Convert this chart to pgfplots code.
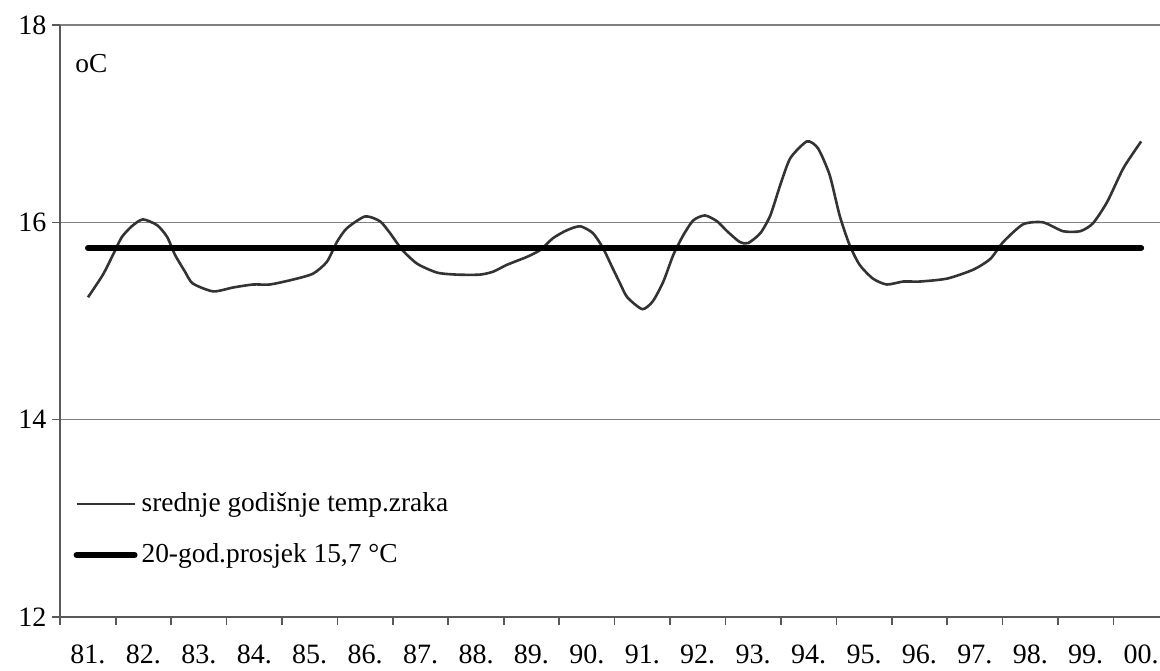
\documentclass[border=0pt]{standalone}
\usepackage{fontspec}
\setmainfont{Liberation Serif}
\usepackage{pgfplots}
\pgfplotsset{compat=1.18}
\begin{document}
\fontsize{13.7}{16}\selectfont
\begin{tikzpicture}
\begin{axis}[name=ax, scale only axis, width=550pt, height=296pt,
  xmin=-0.505, xmax=19.34, ymin=12, ymax=18,
  axis x line=bottom, axis y line=left,
  axis line style={-, draw=black!65, line width=0.8pt},
  ytick={12,14,16,18}, ymajorgrids, grid style={black!50, line width=0.8pt},
  xtick={0,...,19},
  xticklabels={81.,82.,83.,84.,85.,86.,87.,88.,89.,90.,91.,92.,93.,94.,95.,96.,97.,98.,99.,00.},
  minor xtick={-0.5,0.5,...,18.5},
  tick align=outside, major tick length=4pt, minor tick length=4pt,
  major x tick style={draw=none},
  minor x tick style={draw=black!65, line width=0.8pt},
  major y tick style={draw=black!65, line width=0.8pt},
  tick label style={font=\fontsize{14}{16}\selectfont, /pgf/number format/assume math mode=true},
  xticklabel style={yshift=-5pt},
  yticklabel style={xshift=2pt},
  legend style={at={(axis description cs:0.012,0.218)}, anchor=north west, draw=none, fill=none,
    font=\fontsize{13.7}{16}\selectfont, row sep=10pt, inner sep=0pt},
  legend cell align=left,
  legend image code/.code={\draw[#1] (0pt,0pt) -- (29pt,0pt);},
]
\addplot[black!80, line width=1.3pt, smooth, tension=0.4] coordinates {
(0,15.24) (0.27,15.47) (0.45,15.67) (0.61,15.85) (0.79,15.96) (0.99,16.03)
(1.25,15.97) (1.43,15.85) (1.57,15.67) (1.75,15.50) (1.89,15.38) (2.26,15.30)
(2.62,15.34) (2.98,15.37) (3.28,15.37) (3.70,15.42) (4.06,15.48) (4.31,15.60)
(4.49,15.80) (4.67,15.94) (5.00,16.06) (5.27,16.01) (5.45,15.89) (5.67,15.72)
(5.94,15.58) (6.30,15.49) (6.66,15.47) (7.07,15.47) (7.31,15.50) (7.56,15.57)
(7.92,15.65) (8.16,15.72) (8.39,15.84) (8.64,15.92) (8.88,15.96) (9.11,15.89)
(9.29,15.74) (9.47,15.53) (9.60,15.38) (9.73,15.24) (10.00,15.12) (10.19,15.20)
(10.38,15.40) (10.56,15.67) (10.74,15.87) (10.92,16.02) (11.13,16.07) (11.35,16.01)
(11.53,15.91) (11.76,15.80) (11.91,15.79) (12.13,15.89) (12.31,16.07) (12.49,16.38)
(12.67,16.65) (12.97,16.82) (13.17,16.75) (13.38,16.48) (13.56,16.07) (13.74,15.77)
(13.92,15.57) (14.16,15.43) (14.41,15.37) (14.71,15.40) (15.01,15.40) (15.50,15.43)
(15.97,15.52) (16.28,15.63) (16.51,15.80) (16.87,15.98) (17.23,16.00) (17.59,15.91)
(17.90,15.91) (18.13,15.99) (18.39,16.21) (18.68,16.55) (19.00,16.82)
};
\addlegendentry{srednje godišnje temp.zraka}
\addplot[black, line width=3pt, line cap=round] coordinates {(0,15.74) (19,15.74)};
\addlegendentry{20-god.prosjek 15,7 °C}
\node[anchor=base west, inner sep=0pt] at (axis description cs:0.0136,0.919) {oC};
\end{axis}
\pgfresetboundingbox
\useasboundingbox ([xshift=-30pt,yshift=-26.5pt]ax.south west) rectangle ([xshift=550pt,yshift=308.5pt]ax.south west);
\end{tikzpicture}
\end{document}
